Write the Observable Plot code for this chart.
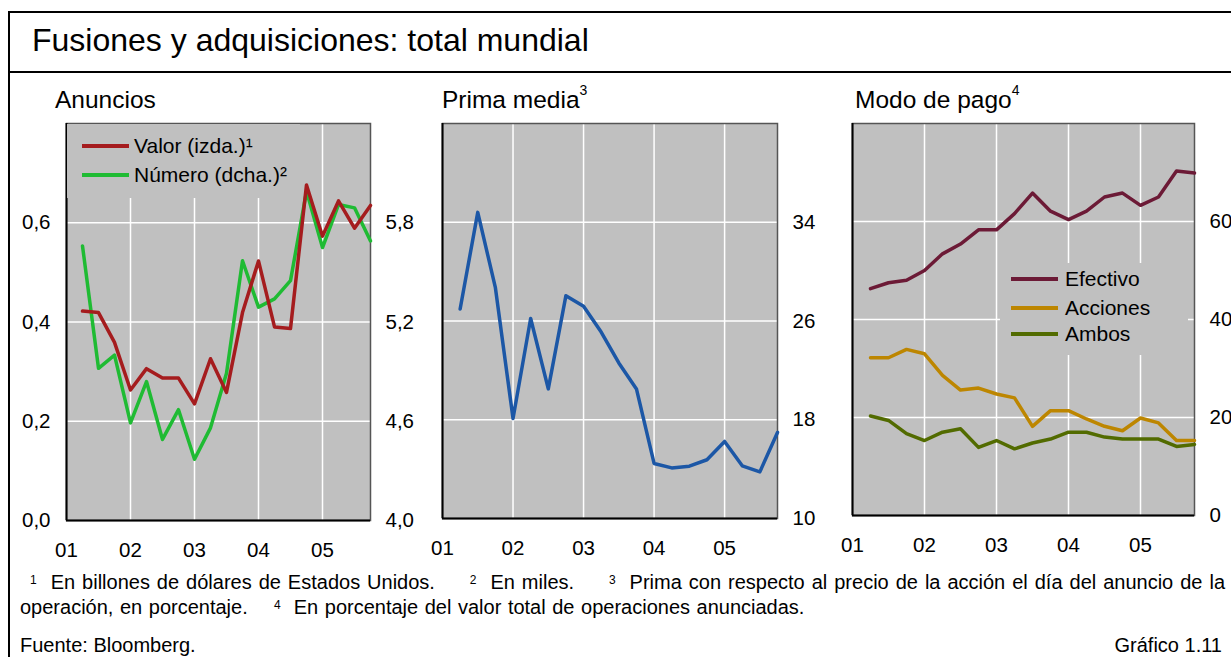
<!DOCTYPE html>
<html>
<head>
<meta charset="utf-8">
<script src="https://cdn.jsdelivr.net/npm/d3@7"></script>
<script src="https://cdn.jsdelivr.net/npm/@observablehq/plot@0.6"></script>
<style>
  html, body { margin: 0; padding: 0; background: #fff; }
  body { font-family: "Liberation Sans", Arial, sans-serif; color: #000; }
  #root { position: relative; width: 1231px; height: 657px; overflow: hidden; }
  .abs { position: absolute; }
  .hline { position: absolute; background: #000; height: 2px; }
  .vline { position: absolute; background: #000; width: 2px; }
  .ptitle { position: absolute; font-size: 24.5px; white-space: nowrap; }
  .ptitle sup { font-size: 14px; position: relative; top: -4px; }
  .legend { position: absolute; background: #c0c0c0; font-size: 21px; }
  .note { position: absolute; font-size: 20px; white-space: pre; line-height: 22px; }
  .note sup { font-size: 12px; position: relative; top: -5px; vertical-align: baseline; line-height: 1; }
</style>
</head>
<body>
<div id="root"></div>
<script>
// ---------- DATA ----------
const periods = [2001.25, 2001.5, 2001.75, 2002, 2002.25, 2002.5, 2002.75, 2003, 2003.25, 2003.5,
                 2003.75, 2004, 2004.25, 2004.5, 2004.75, 2005, 2005.25, 2005.5, 2005.75];
const yearTicks = [2001, 2002, 2003, 2004, 2005];

// Anuncios
const valor  = [0.422, 0.419, 0.359, 0.263, 0.306, 0.287, 0.287, 0.235, 0.326, 0.258,
                0.419, 0.523, 0.390, 0.387, 0.676, 0.573, 0.644, 0.589, 0.635];
const numero = [5.66, 4.92, 5.00, 4.59, 4.84, 4.49, 4.67, 4.37, 4.56, 4.89,
                5.57, 5.29, 5.34, 5.45, 5.99, 5.65, 5.91, 5.89, 5.69];
const leftTicks1  = [0, 0.2, 0.4, 0.6];
const rightTicks1 = [4.0, 4.6, 5.2, 5.8];

// Prima media
const prima = [26.97, 34.8, 28.7, 18.1, 26.2, 20.5, 28.05, 27.2, 25.1, 22.6,
               20.5, 14.46, 14.1, 14.24, 14.76, 16.24, 14.27, 13.78, 16.97];
const ticks2 = [10, 18, 26, 34];

// Modo de pago
const efectivo = [46.3, 47.5, 48.0, 50.0, 53.4, 55.4, 58.3, 58.3, 61.6, 65.8,
                  62.1, 60.4, 62.1, 65.0, 65.8, 63.3, 65.0, 70.3, 69.9];
const acciones = [32.2, 32.2, 33.9, 33.0, 28.6, 25.6, 26.0, 24.8, 24.0, 18.2,
                  21.4, 21.4, 19.7, 18.2, 17.3, 19.9, 18.9, 15.3, 15.3];
const ambos    = [20.3, 19.4, 16.7, 15.3, 17.0, 17.7, 13.9, 15.3, 13.6, 14.8,
                  15.6, 17.0, 17.0, 16.0, 15.6, 15.6, 15.6, 14.1, 14.5];
const ticks3 = [0, 20, 40, 60];

const seriesNames1 = ["Valor (izda.)¹", "Número (dcha.)²"];
const seriesNames3 = ["Efectivo", "Acciones", "Ambos"];

// ---------- STYLE ----------
const C = {
  bg: "#c0c0c0", grid: "#ffffff",
  valor: "#a51c1e", numero: "#1fbb33", prima: "#1c57a6",
  efectivo: "#6c1a36", acciones: "#bd8600", ambos: "#526b00"
};
const FONT = "'Liberation Sans', Arial, sans-serif";
const fmtComma = (d, p) => d3.format("." + p + "f")(d).replace(".", ",");
const yearFmt = d => String(Math.round(d)).slice(-2);
const LW = 3.5;

const root = document.getElementById("root");
function el(tag, cls, css, html) {
  const e = document.createElement(tag);
  if (cls) e.className = cls;
  Object.assign(e.style, css || {});
  if (html != null) e.innerHTML = html;
  root.appendChild(e);
  return e;
}

// Outer frame
el("div", "vline", {left: "8px", top: "11px", height: "646px"});
el("div", "hline", {left: "8px", top: "11px", width: "1223px"});
el("div", "hline", {left: "8px", top: "71px", width: "1223px"});
el("div", "abs", {left: "32px", top: "22px", fontSize: "32px", whiteSpace: "nowrap"}, "Fusiones y adquisiciones: total mundial");

// Panel titles
el("div", "ptitle", {left: "55px", top: "86px"}, "Anuncios");
el("div", "ptitle", {left: "442px", top: "86px"}, "Prima media<sup>3</sup>");
el("div", "ptitle", {left: "855px", top: "86px"}, "Modo de pago<sup>4</sup>");

function basePlotStyle() {
  return {fontFamily: FONT, fontSize: "20.5px", color: "#000", background: "transparent", overflow: "visible"};
}
function place(svg, left, top) {
  svg.style.position = "absolute";
  svg.style.left = left + "px";
  svg.style.top = top + "px";
  root.appendChild(svg);
}

// ---------- Panel 1: Anuncios ----------
const toLeft = v => (v - 4) / 3;
const rows1 = periods.map((p, i) => ({p, valor: valor[i], numero: toLeft(numero[i])}));
const p1 = Plot.plot({
  width: 420, height: 450,
  marginLeft: 66, marginRight: 50, marginTop: 13, marginBottom: 40,
  style: basePlotStyle(),
  x: {domain: [2001, 2005.75], label: null},
  y: {domain: [0, 0.8], label: null},
  marks: [
    Plot.frame({fill: C.bg}),
    Plot.gridX(yearTicks.slice(1), {stroke: C.grid, strokeOpacity: 1, strokeWidth: 1.5}),
    Plot.gridY(leftTicks1.slice(1), {stroke: C.grid, strokeOpacity: 1, strokeWidth: 1.5}),
    Plot.frame({stroke: "#555", strokeWidth: 1.5}),
    Plot.ruleX([2001], {stroke: "#000", strokeWidth: 2}),
    Plot.ruleY([0], {stroke: "#000", strokeWidth: 2}),
    Plot.axisX(yearTicks, {tickSize: 0, tickPadding: 22, tickFormat: yearFmt, label: null}),
    Plot.axisY(leftTicks1, {anchor: "left", tickSize: 0, tickPadding: 16, tickFormat: d => fmtComma(d, 1), label: null}),
    Plot.axisY(rightTicks1.map(toLeft), {anchor: "right", tickSize: 0, tickPadding: 15, tickFormat: d => fmtComma(d * 3 + 4, 1), label: null}),
    Plot.line(rows1, {x: "p", y: "numero", stroke: C.numero, strokeWidth: LW}),
    Plot.line(rows1, {x: "p", y: "valor", stroke: C.valor, strokeWidth: LW})
  ]
});
place(p1, 0, 110);

// ---------- Panel 2: Prima media ----------
const rows2 = periods.map((p, i) => ({p, v: prima[i]}));
const p2 = Plot.plot({
  width: 400, height: 450,
  marginLeft: 22, marginRight: 43, marginTop: 13, marginBottom: 42,
  style: basePlotStyle(),
  x: {domain: [2001, 2005.75], label: null},
  y: {domain: [10, 42], label: null},
  marks: [
    Plot.frame({fill: C.bg}),
    Plot.gridX(yearTicks.slice(1), {stroke: C.grid, strokeOpacity: 1, strokeWidth: 1.5}),
    Plot.gridY(ticks2.slice(1), {stroke: C.grid, strokeOpacity: 1, strokeWidth: 1.5}),
    Plot.frame({stroke: "#555", strokeWidth: 1.5}),
    Plot.ruleX([2001], {stroke: "#000", strokeWidth: 2}),
    Plot.ruleY([10], {stroke: "#000", strokeWidth: 2}),
    Plot.axisX(yearTicks, {tickSize: 0, tickPadding: 22, tickFormat: yearFmt, label: null}),
    Plot.axisY(ticks2, {anchor: "right", tickSize: 0, tickPadding: 15, label: null}),
    Plot.line(rows2, {x: "p", y: "v", stroke: C.prima, strokeWidth: LW})
  ]
});
place(p2, 420, 110);

// ---------- Panel 3: Modo de pago ----------
const rows3 = [];
periods.forEach((p, i) => {
  rows3.push({p, s: seriesNames3[0], v: efectivo[i]});
  rows3.push({p, s: seriesNames3[1], v: acciones[i]});
  rows3.push({p, s: seriesNames3[2], v: ambos[i]});
});
const p3 = Plot.plot({
  width: 411, height: 450,
  marginLeft: 32, marginRight: 37, marginTop: 13, marginBottom: 45,
  style: basePlotStyle(),
  x: {domain: [2001, 2005.75], label: null},
  y: {domain: [0, 80], label: null},
  color: {domain: seriesNames3, range: [C.efectivo, C.acciones, C.ambos]},
  marks: [
    Plot.frame({fill: C.bg}),
    Plot.gridX(yearTicks.slice(1), {stroke: C.grid, strokeOpacity: 1, strokeWidth: 1.5}),
    Plot.gridY(ticks3.slice(1), {stroke: C.grid, strokeOpacity: 1, strokeWidth: 1.5}),
    Plot.frame({stroke: "#555", strokeWidth: 1.5}),
    Plot.ruleX([2001], {stroke: "#000", strokeWidth: 2}),
    Plot.ruleY([0], {stroke: "#000", strokeWidth: 2}),
    Plot.axisX(yearTicks, {tickSize: 0, tickPadding: 22, tickFormat: yearFmt, label: null}),
    Plot.axisY(ticks3, {anchor: "right", tickSize: 0, tickPadding: 15, label: null}),
    Plot.line(rows3, {x: "p", y: "v", z: "s", stroke: "s", strokeWidth: LW})
  ]
});
place(p3, 820, 110);

// ---------- Legends ----------
function legend(left, top, w, h, items, rowTops, swLeft, swW, textLeft) {
  const box = el("div", "legend", {left: left + "px", top: top + "px", width: w + "px", height: h + "px", zIndex: 2});
  items.forEach((it, i) => {
    const sw = document.createElement("div");
    Object.assign(sw.style, {position: "absolute", left: swLeft + "px", top: (rowTops[i] - 2) + "px", width: swW + "px", height: "4px", background: it.color});
    box.appendChild(sw);
    const t = document.createElement("div");
    Object.assign(t.style, {position: "absolute", left: textLeft + "px", top: (rowTops[i] - 12) + "px", whiteSpace: "nowrap", lineHeight: "24px"});
    t.textContent = it.label;
    box.appendChild(t);
  });
}
legend(67, 124, 233, 74,
  [{label: seriesNames1[0], color: C.valor}, {label: seriesNames1[1], color: C.numero}],
  [22, 51], 15, 47, 67);
legend(1000, 263, 188, 92,
  [{label: seriesNames3[0], color: C.efectivo}, {label: seriesNames3[1], color: C.acciones}, {label: seriesNames3[2], color: C.ambos}],
  [16, 45, 71], 11, 47, 65);

// ---------- Footnotes ----------
el("div", "note", {left: "30px", top: "571px", width: "1195px", whiteSpace: "normal", textAlign: "justify", textAlignLast: "justify"},
  "<sup>1</sup>&nbsp;&nbsp;En billones de dólares de Estados Unidos.&nbsp;&nbsp;&nbsp;&nbsp; <sup>2</sup>&nbsp;&nbsp;En miles.&nbsp;&nbsp;&nbsp;&nbsp; <sup>3</sup>&nbsp;&nbsp;Prima con respecto al precio de la acción el día del anuncio de la");
el("div", "note", {left: "20px", top: "596px", wordSpacing: "1px"},
  "operación, en porcentaje.    <sup>4</sup>  En porcentaje del valor total de operaciones anunciadas.");
el("div", "note", {left: "20px", top: "634px"}, "Fuente: Bloomberg.");
el("div", "note", {right: "9px", top: "634px"}, "Gráfico 1.11");
</script>
</body>
</html>
